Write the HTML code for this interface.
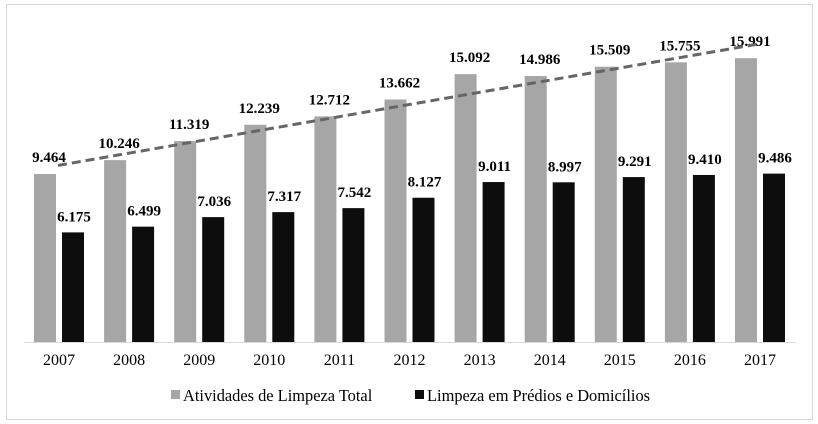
<!DOCTYPE html>
<html><head><meta charset="utf-8"><style>
html,body{margin:0;padding:0;background:#fff}
svg{display:block;font-family:"Liberation Serif",serif}
</style></head><body>
<svg id="chart" width="818" height="424" viewBox="0 0 818 424" xmlns="http://www.w3.org/2000/svg">
<rect x="6.5" y="4.5" width="806" height="415" fill="#fff" stroke="#d9d9d9"/>
<line x1="24" y1="342.5" x2="796" y2="342.5" stroke="#d9d9d9"/>
<g id="bars"></g>
<g id="labels"></g>
<polyline id="trend" fill="none" stroke="#666" stroke-width="3" stroke-dasharray="9,5"/>
<g font-size="16.4">
<rect x="171" y="390" width="9" height="9" fill="#a6a6a6"/>
<text x="183" y="401">Atividades de Limpeza Total</text>
<rect x="415" y="390" width="9" height="9" fill="#0d0d0d"/>
<text x="427" y="401">Limpeza em Prédios e Domicílios</text>
</g>
</svg>
<script>
const years=["2007","2008","2009","2010","2011","2012","2013","2014","2015","2016","2017"];
const totalValues=[9464,10246,11319,12239,12712,13662,15092,14986,15509,15755,15991];
const predioValues=[6175,6499,7036,7317,7542,8127,9011,8997,9291,9410,9486];
const fmt=v=>{const s=String(v);return s.slice(0,s.length-3)+"."+s.slice(-3);};
const base=342, k=0.01775, x0=34, step=70.1, bw=22;
const yS=v=>base-v*k;
const ns="http://www.w3.org/2000/svg";
const bars=document.getElementById('bars'), labels=document.getElementById('labels');
function mk(tag,attrs,parent){const e=document.createElementNS(ns,tag);for(const a in attrs)e.setAttribute(a,attrs[a]);parent.appendChild(e);return e;}
years.forEach((yr,i)=>{
  const gx=x0+i*step, bx=gx+28;
  const r1=mk('rect',{x:gx,y:yS(totalValues[i]),width:bw,height:totalValues[i]*k,fill:'#a6a6a6'},bars);
  
  
  const r2=mk('rect',{x:bx,y:yS(predioValues[i]),width:bw,height:predioValues[i]*k,fill:'#0d0d0d'},bars);
  
  
  const t1=mk('text',{x:gx+bw/2+4,y:yS(totalValues[i])-12,'text-anchor':'middle','font-size':'15','font-weight':'bold'},labels);
  t1.textContent=fmt(totalValues[i]);
  
  
  const t2=mk('text',{x:bx+bw/2+1,y:yS(predioValues[i])-11,'text-anchor':'middle','font-size':'15','font-weight':'bold'},labels);
  t2.textContent=fmt(predioValues[i]);
  
  
  const t3=mk('text',{x:gx+bw+3,y:365,'text-anchor':'middle','font-size':'16'},labels);
  t3.textContent=yr;
  
  
});
const n=totalValues.length;let sx=0,sy=0,sxy=0,sxx=0;
totalValues.forEach((v,i)=>{sx+=i;sy+=v;sxy+=i*v;sxx+=i*i;});
const b=(n*sxy-sx*sy)/(n*sxx-sx*sx), a=(sy-b*sx)/n;
const xa=x0+bw+2, xb=x0+10*step+bw;
document.getElementById('trend').setAttribute('points',xa+','+yS(a)+' '+xb+','+yS(a+b*10));
</script>
</body></html>
